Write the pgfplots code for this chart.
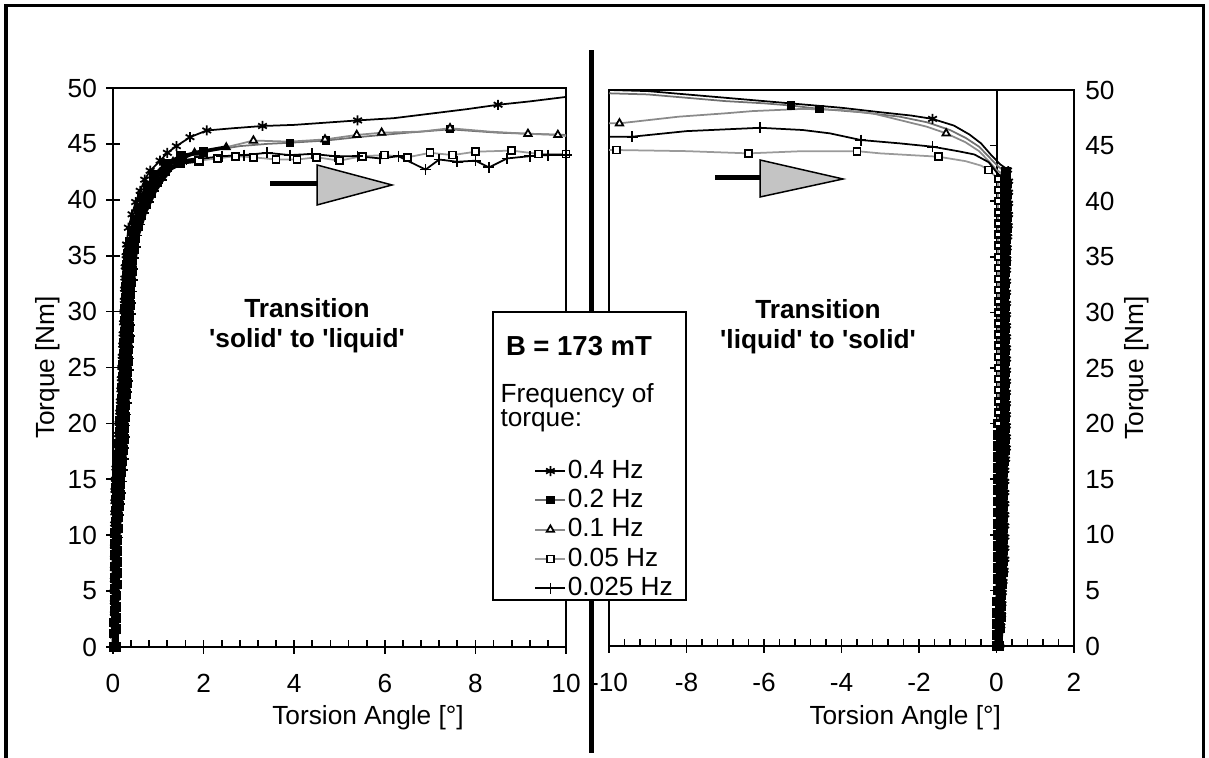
\documentclass[border=0pt]{standalone}
\usepackage{fontspec}
\setmainfont{Liberation Sans}[Ligatures=TeXOff]
\usepackage{pgfplots}
\pgfplotsset{compat=1.18}

\definecolor{grA}{HTML}{707070}
\definecolor{grB}{HTML}{8A8A8A}
\definecolor{grC}{HTML}{9A9A9A}
\definecolor{arrowfill}{HTML}{C4C4C4}

\newcommand{\lblfont}{\fontsize{10.5}{12}\selectfont}

\pgfplotsset{
  panel/.style={
    scale only axis, clip=false,
    ymin=0, ymax=50, ytick={0,5,...,50},
    tick align=center,
    major tick length=5.5pt, minor tick length=2.6pt,
    minor x tick num=4,
    every minor tick/.append style={yshift=1.3pt},
    every tick/.append style={line width=0.7pt, black},
    axis line style={line width=0.8pt},
    tick label style={font=\lblfont, inner sep=0pt},
    /pgf/number format/assume math mode=true,
    label style={font=\lblfont},
    xtick pos=bottom,
    xticklabel shift=8pt,
  },
  % 0.4 Hz
  sA/.style={black, line width=0.7pt, mark=asterisk, mark size=2pt, mark options={black, solid}},
  % 0.2 Hz
  sB/.style={grA, line width=0.7pt, mark=square*, mark size=1.3pt, mark options={black, fill=black, solid}},
  % 0.1 Hz
  sC/.style={grB, line width=0.7pt, mark=triangle*, mark size=1.7pt, mark options={black, fill=white, solid}},
  % 0.05 Hz
  sD/.style={grC, line width=0.7pt, mark=square*, mark size=1.4pt, mark options={black, fill=white, solid}},
  % 0.025 Hz
  sE/.style={black, line width=0.7pt, mark=+, mark size=2.2pt, mark options={black, solid}},
  % the dense, nearly vertical part of each record
  band/.style={black, line width=1.5pt, mark size=1.6pt, mark options={black, fill=black, solid, line width=0.7pt}},
}

\begin{document}
\begin{tikzpicture}
\begin{scope}[x=0.4pt, y=0.4pt]
  \useasboundingbox (0,0) rectangle (1209,758);
  % outer frame
  \draw[line width=1.2pt] (6,-5) -- (6,752) -- (1203,752) -- (1203,-5);
  % divider between the two panels
  \draw[line width=2pt] (591,5) -- (591,708);
\end{scope}

% ---------------- left panel: 'solid' to 'liquid' ----------------
\begin{axis}[panel,
  at={(45.2pt,44.4pt)}, anchor=south west,
  width=181.2pt, height=223.6pt,
  xmin=0, xmax=10, xtick={0,2,...,10},
  ytick pos=left, yticklabel shift=3.5pt,
  xlabel={Torsion Angle [°]}, ylabel={Torque [Nm]},
  xlabel style={at={(axis description cs:0.563,-0.1395)}, anchor=base},
  ylabel style={at={(axis description cs:-0.1435,0.5)}, anchor=center},
]
% 0.4 Hz
\addplot[sA, band, forget plot] coordinates {
(0.01,0)(0.01,1)(0.01,2)(0.011,3)(0.011,4)(0.012,5)(0.012,6)(0.013,7)(0.013,8)(0.014,9)
(0.015,10)(0.018,11)(0.02,12)(0.022,13)(0.024,14)(0.035,15)(0.046,16)(0.066,17)(0.085,18)(0.1,19)
(0.114,20)(0.129,21)(0.144,22)(0.155,23)(0.165,24)(0.175,25)(0.185,26)(0.195,27)(0.205,28)(0.215,29)
(0.224,30)(0.231,31)(0.237,32)(0.244,33)(0.25,34)(0.27,35)(0.3,36)};
\addplot[sA, forget plot] coordinates {
(0.3,36)(0.34,37.5)(0.42,38.7)(0.5,39.8)(0.6,40.8)(0.7,41.8)(0.82,42.6)(1.04,43.5)(1.2,44.2)(1.4,44.8)(1.7,45.6)(2.07,46.2)};
\addplot[sA, forget plot, mark indices={3,5,9}] coordinates {
(2.07,46.2)(2.65,46.4)(3.3,46.6)(4.0,46.7)(5.4,47.1)(6.2,47.3)(7.0,47.7)(7.8,48.1)(8.5,48.5)(9.2,48.8)(10,49.2)};
% 0.2 Hz
\addplot[sB, band, forget plot] coordinates {
(0.03,0)(0.03,1.2)(0.03,2.2)(0.032,3.2)(0.033,4.2)(0.035,5.2)(0.036,6.2)(0.038,7.2)(0.039,8.2)(0.042,9.2)
(0.045,10.2)(0.053,11.2)(0.06,12.2)(0.066,13.2)(0.072,14.2)(0.085,15.2)(0.098,16.2)(0.117,17.2)(0.135,18.2)(0.149,19.2)
(0.162,20.2)(0.177,21.2)(0.192,22.2)(0.204,23.2)(0.215,24.2)(0.225,25.2)(0.235,26.2)(0.245,27.2)(0.255,28.2)(0.264,29.2)
(0.272,30.2)(0.282,31.2)(0.291,32.2)(0.301,33.2)(0.31,34.2)(0.337,35.2)(0.363,36.2)(0.422,37.2)(0.481,38.2)(0.563,39.2)
(0.644,40.2)(0.765,41.2)(0.909,42.2)(1.175,43.2)(1.5,43.9)(2.0,44.3)};
\addplot[sB, forget plot, mark indices={4,5,8}] coordinates {
(2.0,44.3)(2.8,44.8)(3.4,45.0)(3.9,45.1)(4.7,45.3)(5.4,45.6)(6.5,46.0)(7.44,46.3)(8.5,46.0)(10,45.8)};
% 0.1 Hz
\addplot[sC, band, forget plot] coordinates {
(0.05,0)(0.05,1.4)(0.05,2.4)(0.053,3.4)(0.055,4.4)(0.058,5.4)(0.06,6.4)(0.063,7.4)(0.065,8.4)(0.07,9.4)
(0.075,10.4)(0.088,11.4)(0.1,12.4)(0.11,13.4)(0.12,14.4)(0.135,15.4)(0.15,16.4)(0.168,17.4)(0.185,18.4)(0.198,19.4)
(0.21,20.4)(0.225,21.4)(0.24,22.4)(0.253,23.4)(0.265,24.4)(0.275,25.4)(0.285,26.4)(0.295,27.4)(0.305,28.4)(0.313,29.4)
(0.32,30.4)(0.333,31.4)(0.345,32.4)(0.358,33.4)(0.37,34.4)(0.398,35.4)(0.425,36.4)(0.49,37.4)(0.555,38.4)(0.648,39.4)
(0.74,40.4)(0.875,41.4)(1.035,42.4)(1.325,43.4)(1.8,44.2)(2.5,44.7)};
\addplot[sC, forget plot, mark indices={2,4,5,6,8,10,11}] coordinates {
(2.5,44.7)(3.1,45.3)(3.9,45.2)(4.68,45.4)(5.38,45.8)(5.93,46.0)(6.8,46.1)(7.44,46.4)(8.3,46.1)(9.16,45.9)(9.82,45.8)(10,45.7)};
% 0.05 Hz
\addplot[sD, band, forget plot] coordinates {
(0.07,0)(0.07,1.6)(0.07,2.6)(0.074,3.6)(0.077,4.6)(0.081,5.6)(0.084,6.6)(0.088,7.6)(0.091,8.6)(0.098,9.6)
(0.105,10.6)(0.123,11.6)(0.14,12.6)(0.154,13.6)(0.168,14.6)(0.185,15.6)(0.202,16.6)(0.219,17.6)(0.235,18.6)(0.247,19.6)
(0.258,20.6)(0.273,21.6)(0.288,22.6)(0.302,23.6)(0.315,24.6)(0.325,25.6)(0.335,26.6)(0.345,27.6)(0.355,28.6)(0.362,29.6)
(0.368,30.6)(0.384,31.6)(0.399,32.6)(0.415,33.6)(0.43,34.6)(0.459,35.6)(0.487,36.6)(0.558,37.6)(0.629,38.6)(0.733,39.6)
(0.836,40.6)(0.985,41.6)(1.161,42.6)(1.475,43.3)(1.9,43.5)};
\addplot[sD, forget plot] coordinates {
(1.9,43.5)(2.3,43.7)(2.7,43.9)(3.1,43.8)(3.6,43.6)(4.06,43.6)(4.5,43.8)(5.0,43.5)(5.5,43.9)(6.0,44.0)(6.5,43.8)
(7.0,44.2)(7.5,44.0)(8.0,44.3)(8.8,44.4)(9.4,44.1)(10,44.1)};
% 0.025 Hz
\addplot[sE, band, forget plot] coordinates {
(0.09,0)(0.09,1.8)(0.09,2.8)(0.095,3.8)(0.099,4.8)(0.104,5.8)(0.108,6.8)(0.113,7.8)(0.117,8.8)(0.126,9.8)
(0.135,10.8)(0.158,11.8)(0.18,12.8)(0.198,13.8)(0.216,14.8)(0.235,15.8)(0.254,16.8)(0.27,17.8)(0.285,18.8)(0.296,19.8)
(0.306,20.8)(0.321,21.8)(0.336,22.8)(0.351,23.8)(0.365,24.8)(0.375,25.8)(0.385,26.8)(0.395,27.8)(0.405,28.8)(0.411,29.8)
(0.416,30.8)(0.435,31.8)(0.453,32.8)(0.472,33.8)(0.49,34.8)(0.52,35.8)(0.549,36.8)(0.626,37.8)(0.703,38.8)(0.818,39.8)
(0.932,40.8)(1.095,41.8)(1.287,42.8)(1.625,43.5)(2.0,43.7)};
\addplot[sE, forget plot] coordinates {
(2.0,43.7)(2.4,43.9)(2.9,44.0)(3.4,44.2)(3.9,44.0)(4.4,44.1)(4.9,43.9)(5.4,43.9)(5.9,43.7)(6.3,43.9)(6.9,42.7)
(7.2,43.6)(7.6,43.4)(8.0,43.5)(8.3,42.9)(8.7,43.7)(9.2,43.9)(9.6,44.0)(10,44.0)};
\end{axis}

% ---------------- right panel: 'liquid' to 'solid' ----------------
\begin{axis}[panel,
  at={(243.6pt,44.8pt)}, anchor=south west,
  width=186pt, height=222.4pt,
  xmin=-10, xmax=2, xtick={-10,-8,...,2},
  ytick pos=right, yticklabel pos=right, yticklabel shift=1.6pt,
  every y tick/.append style={draw=none},
  xlabel={Torsion Angle [°]}, ylabel={Torque [Nm]},
  xlabel style={at={(axis description cs:0.637,-0.142)}, anchor=base},
  ylabel style={at={(axis description cs:1.1355,0.5)}, anchor=center},
]
% vertical axis crossing at zero
\draw[line width=0.8pt] (axis cs:0,0) -- (axis cs:0,50);
\pgfplotsinvokeforeach{5,10,15,20,25,30,35,40,45,50}{
  \draw[line width=0.7pt] (axis cs:0,#1) -- ([xshift=-2.8pt]axis cs:0,#1);
}
% 0.05 Hz, lower part hidden in the dense band
\addplot[sD, band, forget plot] coordinates {
(0,0)(0,1)(0,2)(0.01,3)(0.02,4)(0.025,5)(0.03,6)(0.03,7)(0.03,8)(0.03,9)
(0.03,10)(0.03,11)(0.03,12)(0.03,13)(0.03,14)(0.03,15)(0.03,16)(0.03,17)(0.04,18)(0.04,19)(0.04,20)};
% 0.4 Hz
\addplot[sA, band, forget plot] coordinates {
(0.105,0)(0.134,1.8)(0.153,2.8)(0.163,3.8)(0.173,4.8)(0.192,5.8)(0.219,6.8)(0.237,7.8)(0.237,8.8)(0.237,9.8)
(0.237,10.8)(0.237,11.8)(0.237,12.8)(0.237,13.8)(0.237,14.8)(0.237,15.8)(0.256,16.8)(0.275,17.8)(0.276,18.8)(0.277,19.8)
(0.278,20.8)(0.279,21.8)(0.279,22.8)(0.28,23.8)(0.28,24.8)(0.28,25.8)(0.28,26.8)(0.28,27.8)(0.28,28.8)(0.28,29.8)
(0.28,30.8)(0.28,31.8)(0.28,32.8)(0.28,33.8)(0.289,34.8)(0.298,35.8)(0.312,36.8)(0.325,37.8)(0.334,38.8)(0.334,39.8)
(0.334,40.8)(0.334,41.8)(0.306,42.8)};
\addplot[sA, forget plot, mark indices={7}] coordinates {
(0.306,42.8)(0.1,43.3)(-0.15,44.2)(-0.4,45.2)(-0.7,46.0)(-1.1,46.8)(-1.65,47.4)(-2.2,47.7)(-3,48.0)(-4,48.4)
(-5,48.7)(-6,49.0)(-7,49.3)(-8,49.6)(-9,49.9)(-10,50)};
% 0.2 Hz
\addplot[sB, band, forget plot] coordinates {
(0.068,0)(0.094,1.6)(0.111,2.6)(0.121,3.6)(0.131,4.6)(0.145,5.6)(0.167,6.6)(0.18,7.6)(0.18,8.6)(0.18,9.6)
(0.18,10.6)(0.18,11.6)(0.18,12.6)(0.18,13.6)(0.18,14.6)(0.18,15.6)(0.196,16.6)(0.213,17.6)(0.216,18.6)(0.22,19.6)
(0.223,20.6)(0.225,21.6)(0.227,22.6)(0.228,23.6)(0.23,24.6)(0.23,25.6)(0.23,26.6)(0.23,27.6)(0.23,28.6)(0.23,29.6)
(0.23,30.6)(0.23,31.6)(0.23,32.6)(0.23,33.6)(0.237,34.6)(0.243,35.6)(0.253,36.6)(0.263,37.6)(0.269,38.6)(0.269,39.6)
(0.269,40.6)(0.269,41.6)(0.246,42.6)};
\addplot[sB, forget plot, mark indices={10,11}] coordinates {
(0.246,42.6)(0.05,43.1)(-0.2,44.0)(-0.45,44.9)(-0.8,45.7)(-1.2,46.4)(-1.8,47.1)(-2.5,47.6)(-3.5,48.0)(-4.57,48.3)
(-5.3,48.6)(-6,48.8)(-7,49.0)(-8,49.3)(-9,49.6)(-10,49.7)};
% 0.1 Hz
\addplot[sC, band, forget plot] coordinates {
(0.03,0)(0.054,1.4)(0.068,2.4)(0.078,3.4)(0.088,4.4)(0.099,5.4)(0.114,6.4)(0.122,7.4)(0.122,8.4)(0.122,9.4)
(0.122,10.4)(0.122,11.4)(0.122,12.4)(0.122,13.4)(0.122,14.4)(0.122,15.4)(0.136,16.4)(0.15,17.4)(0.156,18.4)(0.162,19.4)
(0.168,20.4)(0.171,21.4)(0.174,22.4)(0.177,23.4)(0.18,24.4)(0.18,25.4)(0.18,26.4)(0.18,27.4)(0.18,28.4)(0.18,29.4)
(0.18,30.4)(0.18,31.4)(0.18,32.4)(0.18,33.4)(0.184,34.4)(0.188,35.4)(0.194,36.4)(0.2,37.4)(0.204,38.4)(0.204,39.4)
(0.204,40.4)(0.204,41.4)(0.186,42.4)};
\addplot[sC, forget plot, mark indices={6,15}] coordinates {
(0.186,42.4)(0,42.8)(-0.2,43.6)(-0.45,44.5)(-0.8,45.3)(-1.3,46.1)(-1.8,46.7)(-2.5,47.3)(-3.2,47.9)(-4,48.2)
(-5,48.3)(-6.3,48.1)(-7,47.9)(-8.2,47.6)(-9.73,47.0)(-10,47.0)};
% 0.025 Hz
\addplot[sE, band, forget plot] coordinates {
(-0.008,0)(0.014,1.2)(0.026,2.2)(0.036,3.2)(0.046,4.2)(0.053,5.2)(0.062,6.2)(0.065,7.2)(0.065,8.2)(0.065,9.2)
(0.065,10.2)(0.065,11.2)(0.065,12.2)(0.065,13.2)(0.065,14.2)(0.065,15.2)(0.076,16.2)(0.088,17.2)(0.096,18.2)(0.105,19.2)
(0.113,20.2)(0.117,21.2)(0.122,22.2)(0.126,23.2)(0.13,24.2)(0.13,25.2)(0.13,26.2)(0.13,27.2)(0.13,28.2)(0.13,29.2)
(0.13,30.2)(0.13,31.2)(0.13,32.2)(0.13,33.2)(0.132,34.2)(0.133,35.2)(0.135,36.2)(0.138,37.2)(0.139,38.2)(0.139,39.2)
(0.139,40.2)(0.139,41.2)(0.126,42.2)};
\addplot[sE, forget plot, mark indices={6,8,11,13}] coordinates {
(0.126,42.2)(0,42.6)(-0.2,43.5)(-0.57,44.2)(-1,44.5)(-1.65,44.9)(-2.5,45.2)(-3.5,45.5)(-4.3,46.1)(-5,46.4)
(-6.1,46.6)(-8,46.3)(-9.4,45.8)(-10,45.8)};
% 0.05 Hz, upper part with its open squares
\addplot[sD, forget plot, line width=1pt, mark size=1.2pt] coordinates {
(0.04,20)(0.04,21)(0.04,22)(0.04,23)(0.04,24)(0.04,25)(0.04,26)(0.04,27)(0.04,28)(0.04,29)
(0.04,30)(0.04,31)(0.04,32)(0.04,33)(0.04,34)(0.04,35)(0.04,36)(0.04,37)(0.04,38)(0.04,39)
(0.04,40)(0.04,41)(0.04,42)};
\addplot[sD, forget plot, mark indices={2,5,8,10,12}] coordinates {
(0.04,42)(-0.2,42.8)(-0.4,43.2)(-0.8,43.6)(-1.5,44.0)(-2,44.1)(-3.0,44.3)(-3.6,44.5)(-5,44.5)(-6.4,44.3)
(-8,44.5)(-9.8,44.6)(-10,44.6)};
\end{axis}

% ---------------- annotations ----------------
\begin{scope}[x=0.4pt, y=0.4pt]
  % direction arrows
  \draw[line width=2pt] (270,574) -- (318,574);
  \draw[line width=0.6pt, fill=arrowfill] (317,593) -- (392,573) -- (317,553) -- cycle;
  \draw[line width=2pt] (715,580) -- (761,580);
  \draw[line width=0.6pt, fill=arrowfill] (760,598) -- (843,579) -- (760,561) -- cycle;
  % transition captions
  \node[font=\bfseries\fontsize{10.5}{12}\selectfont, align=center] at (307,432) {Transition\\[0pt]'solid' to 'liquid'};
  \node[font=\bfseries\fontsize{10.5}{12}\selectfont, align=center] at (818,431) {Transition\\[0pt]'liquid' to 'solid'};
  % legend frame and heading
  \draw[line width=0.8pt, fill=white] (493,158) rectangle (686,446);
  \node[font=\bfseries\fontsize{11}{13}\selectfont] at (579,412) {B = 173 mT};
  \node[font=\lblfont, anchor=base west, inner sep=0pt] at (500,355) {Frequency of};
  \node[font=\lblfont, anchor=base west, inner sep=0pt] at (500,331) {torque:};
\end{scope}

% legend entries
\begin{axis}[at={(0pt,0pt)}, anchor=south west, scale only axis,
  width=483.6pt, height=303.2pt,
  xmin=0, xmax=1209, ymin=0, ymax=758, hide axis,
  legend style={at={(axis cs:534,300)}, anchor=north west, draw=none, fill=none,
    inner sep=0pt, font=\lblfont, row sep=1.7pt,
    cells={anchor=west}, nodes={inner sep=0.6pt}},
  legend image code/.code={
    \draw[mark repeat=2, mark phase=2, #1] plot coordinates {(0pt,0pt) (6pt,0pt) (12pt,0pt)};},
]
\addlegendimage{sA}
\addlegendentry{0.4 Hz}
\addlegendimage{sB}
\addlegendentry{0.2 Hz}
\addlegendimage{sC}
\addlegendentry{0.1 Hz}
\addlegendimage{sD}
\addlegendentry{0.05 Hz}
\addlegendimage{sE}
\addlegendentry{0.025 Hz}
\end{axis}
\end{tikzpicture}
\end{document}
